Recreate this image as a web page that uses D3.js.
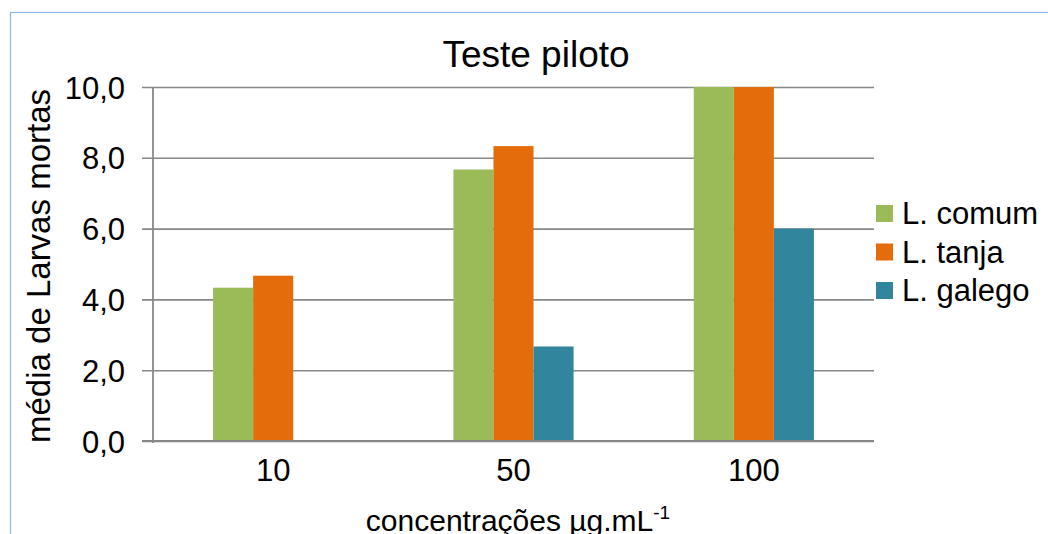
<!DOCTYPE html>
<html><head><meta charset="utf-8">
<script src="https://cdn.jsdelivr.net/npm/d3@7"></script>
<style>html,body{margin:0;padding:0;background:#fff;} svg{display:block;font-family:"Liberation Sans",Arial,sans-serif;}</style>
</head><body>
<svg id="c" width="1048" height="534"></svg>
<script>
const categories = ["10", "50", "100"];
const seriesNames = ["L. comum", "L. tanja", "L. galego"];
const comum = [4.33, 7.67, 10.0];
const tanja = [4.67, 8.33, 10.0];
const galego = [0, 2.67, 6.0];
const yTicks = [0, 2, 4, 6, 8, 10];
const colors = ["#9bbb59", "#e46c0a", "#31859c"];

const series = [comum, tanja, galego];
const svg = d3.select("#c");
const m = {left:153, right:874, top:87, bottom:441};

// outer border
svg.append("rect").attr("x",10.5).attr("y",12.5).attr("width",1100).attr("height",600)
  .attr("fill","#fff").attr("stroke","#8eb4e3").attr("stroke-width",1.2);

const x0 = d3.scaleBand().domain(categories).range([m.left, m.right]).paddingInner(0.5).paddingOuter(0.25);
const x1 = d3.scaleBand().domain(seriesNames).range([0, x0.bandwidth()]);
const y = d3.scaleLinear().domain([0,10]).range([m.bottom, m.top]);

// gridlines
const yAxis = d3.axisLeft(y).tickValues(yTicks).tickSize(-(m.right-m.left)).tickFormat(d => d3.format(".1f")(d).replace(".", ","));
const gy = svg.append("g").attr("transform",`translate(${m.left},0)`).call(yAxis);
gy.select(".domain").remove();
gy.selectAll(".tick line").attr("stroke","#888").attr("stroke-width",1.6).attr("x1",-11);
gy.selectAll(".tick text").attr("x",-28).attr("font-size",31).attr("fill","#000").attr("dy","0.36em")
  .style("font-family","'Liberation Sans',Arial,sans-serif");

// bars
const groups = svg.append("g").selectAll("g").data(categories).join("g")
  .attr("transform", d => `translate(${x0(d)},0)`);
groups.selectAll("rect").data((d,i) => series.map((s,j) => ({name:seriesNames[j], v:s[i], c:colors[j]})))
  .join("rect")
  .attr("x", d => x1(d.name)).attr("width", x1.bandwidth())
  .attr("y", d => y(d.v)).attr("height", d => y(0) - y(d.v))
  .attr("fill", d => d.c);

// axis lines
svg.append("line").attr("x1",m.left).attr("x2",m.left).attr("y1",m.top).attr("y2",m.bottom+2)
  .attr("stroke","#888").attr("stroke-width",1.8);
const xAxis = d3.axisBottom(x0).tickSize(0).tickPadding(0);
const gx = svg.append("g").attr("transform",`translate(0,${m.bottom})`).call(xAxis);
gx.select(".domain").remove();
svg.append("line").attr("x1",142).attr("x2",m.right).attr("y1",m.bottom).attr("y2",m.bottom)
  .attr("stroke","#888").attr("stroke-width",1.8);
gx.selectAll(".tick text").attr("y",40).attr("dy",0).attr("font-size",31).attr("fill","#000")
  .style("font-family","'Liberation Sans',Arial,sans-serif");

// title
svg.append("text").attr("x",536).attr("y",67).attr("text-anchor","middle").attr("font-size",37)
  .attr("fill","#000").text("Teste piloto");

// y label
svg.append("text").attr("transform","translate(50,266) rotate(-90)").attr("text-anchor","middle")
  .attr("font-size",33).attr("fill","#000").text("média de Larvas mortas");

// x label
const xl = svg.append("text").attr("x",518).attr("y",531).attr("text-anchor","middle").attr("font-size",30).attr("fill","#000");
xl.append("tspan").text("concentrações µg.mL");
xl.append("tspan").attr("dy",-12).attr("font-size",19).text("-1");

// legend
const lg = svg.append("g").selectAll("g").data(seriesNames).join("g")
  .attr("transform",(d,i)=>`translate(876,${205 + i*38.5})`);
lg.append("rect").attr("width",17).attr("height",17).attr("fill",(d,i)=>colors[i]);
lg.append("text").attr("x",26).attr("y",19).attr("font-size",31).attr("fill","#000").text(d=>d);
</script>
</body></html>
